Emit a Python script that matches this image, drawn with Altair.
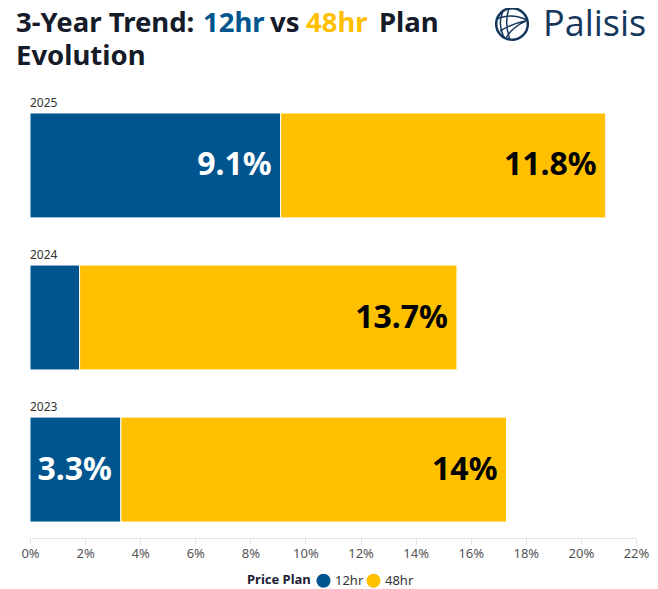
import pandas as pd
import altair as alt

years = ["2025", "2024", "2023"]
plans = ["12hr", "48hr"]
share_12hr = [9.1, 1.8, 3.3]
share_48hr = [11.8, 13.7, 14.0]
plan_colors = ["#00558f", "#ffc000"]
label_colors = ["white", "black"]
ticks = list(range(0, 23, 2))

FONT = "Noto Sans"

rows = []
for i, y in enumerate(years):
    end = 0
    for j, (p, v) in enumerate(zip(plans, [share_12hr[i], share_48hr[i]])):
        end += v
        rows.append({"year": y, "plan": p, "rank": j, "share": v, "end": round(end, 1),
                     "label": f"{v:g}%", "txt": label_colors[j]})
df = pd.DataFrame(rows)

band = alt.Scale(paddingInner=0.31, paddingOuter=0.105)
y_enc = alt.Y("year:N", sort=years, axis=None, scale=band)

bars = alt.Chart(df).mark_bar(stroke="white", strokeWidth=1).encode(
    x=alt.X("share:Q", stack="zero", title=None,
            scale=alt.Scale(domain=[0, 22], nice=False),
            axis=alt.Axis(values=ticks, labelExpr="datum.value + '%'", grid=False,
                          labelFlush=False, domainColor="#e3e3e3", tickColor="#e3e3e3",
                          tickSize=6, labelColor="#555555", labelFontSize=13,
                          labelPadding=3, labelFont=FONT)),
    y=y_enc,
    color=alt.Color("plan:N", scale=alt.Scale(domain=plans, range=plan_colors),
                    legend=alt.Legend(title="Price Plan", orient="none", legendX=217, legendY=476,
                                      direction="horizontal",
                                      titleOrient="left", symbolType="circle", symbolSize=200,
                                      symbolStrokeWidth=0, symbolOpacity=1, columnPadding=2,
                                      labelFontSize=13, labelColor="#333333", labelFont=FONT,
                                      titleFontSize=13, titleFont=FONT, titleColor="#1c2233",
                                      titleFontWeight="bold")),
    order=alt.Order("rank:Q"),
)

values = alt.Chart(df).transform_filter("datum.share >= 3").mark_text(
    align="right", baseline="middle", dx=-9, fontSize=32, fontWeight="bold", font=FONT
).encode(
    x="end:Q", y=y_enc, text="label:N", color=alt.Color("txt:N", scale=None)
)

year_df = pd.DataFrame({"year": years})
year_labels = alt.Chart(year_df).mark_text(
    align="left", baseline="bottom", dy=-3, fontSize=12, color="#333333", font=FONT
).encode(
    x=alt.value(0), y=alt.Y("year:N", sort=years, axis=None, bandPosition=0, scale=band),
    text="year:N",
)

# title pieces (multi-coloured)
title_words = ["3-Year Trend:", "12hr", "vs", "48hr", "Plan", "Evolution"]
title_x = [-14, 173, 240, 276, 349, -14]
title_y = [-65, -65, -65, -65, -65, -32]
title_col = ["#161b29", "#00558f", "#161b29", "#ffc000", "#161b29", "#161b29"]
title_df = pd.DataFrame({"t": title_words})
title_layers = [
    alt.Chart(title_df.iloc[[k]]).mark_text(
        align="left", baseline="alphabetic", fontSize=27.5, fontWeight="bold", font=FONT,
        color=title_col[k]
    ).encode(x=alt.value(title_x[k]), y=alt.value(title_y[k]), text="t:N")
    for k in range(len(title_words))
]

logo_df = pd.DataFrame({"t": ["Palisis"]})
logo_text = alt.Chart(logo_df).mark_text(
    align="left", baseline="alphabetic", fontSize=36, font="Open Sans", color="#14385c"
).encode(x=alt.value(513), y=alt.value(-61), text="t:N")
globe = alt.Chart(logo_df).mark_point(
    shape="circle", size=1000, stroke="#14385c", strokeWidth=2.5, opacity=1
).encode(x=alt.value(482), y=alt.value(-73))
swoosh = alt.Chart(logo_df).mark_point(
    shape="M-0.9,-0.35Q0,-0.7,0.95,-0.25M-0.75,0.45Q-0.1,0,0.9,-0.2M-0.35,0.85Q0,0.2,0.9,-0.2M-0.2,-0.95Q-0.5,-0.1,-0.15,0.95M-0.6,-0.75Q-0.9,0,-0.55,0.75",
    size=1000, stroke="#14385c", strokeWidth=1.5, filled=False, opacity=1
).encode(x=alt.value(482), y=alt.value(-73))

chart = alt.layer(bars, values, year_labels, *title_layers, globe, swoosh, logo_text).properties(
    width=606, height=441,
    autosize=alt.AutoSizeParams(type="none"),
    padding={"left": 22, "top": 89, "right": 13, "bottom": 50},
).configure_view(strokeWidth=0)

chart.save("out.html", embed_options={"renderer": "svg", "actions": False})
